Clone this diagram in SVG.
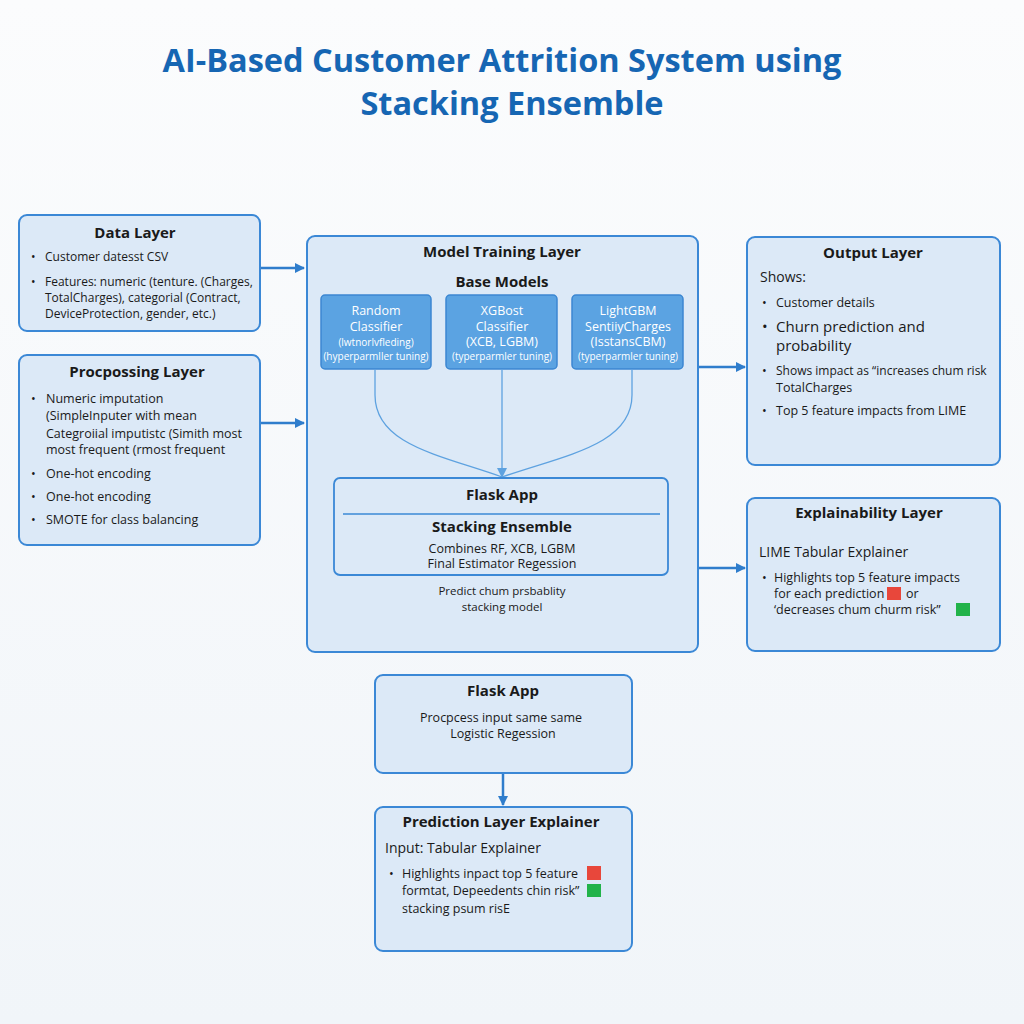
<svg xmlns="http://www.w3.org/2000/svg" width="1024" height="1024" viewBox="0 0 1024 1024">
<defs>
<style>
.box{fill:#dce9f7;stroke:#3b88d6;stroke-width:2}
.mbox{fill:#5ba3e2;stroke:#3c87d2;stroke-width:1.5}
.t{font-family:"Open Sans","Liberation Sans",sans-serif;fill:#1a1a1a}
.h{font-weight:bold;font-size:15px;text-anchor:middle}
.b{font-size:12.5px}
.c{text-anchor:middle}
.w{fill:#ffffff;font-size:12.5px;text-anchor:middle}
.ws{fill:#ffffff;font-size:10px;text-anchor:middle}
.conn{fill:none;stroke:#2f7dcc;stroke-width:2.5}
.thin{fill:none;stroke:#5ea2e0;stroke-width:1.3}
</style>
<marker id="ah" markerWidth="10" markerHeight="10" refX="9" refY="5" orient="auto" markerUnits="userSpaceOnUse" viewBox="0 0 10 10">
<path d="M0,0 L10,5 L0,10 Z" fill="#2f7dcc"/>
</marker>
<marker id="ah2" markerWidth="10" markerHeight="10" refX="9" refY="5" orient="auto" markerUnits="userSpaceOnUse" viewBox="0 0 10 10">
<path d="M0,0 L10,5 L0,10 Z" fill="#5ea2e0"/>
</marker>
<linearGradient id="bg" x1="0" y1="0" x2="0" y2="1">
<stop offset="0" stop-color="#fbfcfd"/>
<stop offset="1" stop-color="#f1f5f9"/>
</linearGradient>
</defs>
<rect width="1024" height="1024" fill="url(#bg)"/>

<g id="title" font-family="'Open Sans','Liberation Sans',sans-serif" font-weight="bold" fill="#1666b3" text-anchor="middle">
<text x="502" y="72" font-size="32.5">AI-Based Customer Attrition System using</text>
<text x="512" y="115" font-size="32.5">Stacking Ensemble</text>
</g>

<g id="connectors">
<line class="conn" x1="260" y1="268" x2="304" y2="268" marker-end="url(#ah)"/>
<line class="conn" x1="260" y1="423" x2="304" y2="423" marker-end="url(#ah)"/>
<line class="conn" x1="698" y1="367" x2="745" y2="367" marker-end="url(#ah)"/>
<line class="conn" x1="698" y1="568" x2="745" y2="568" marker-end="url(#ah)"/>
<line class="conn" x1="503" y1="774" x2="503" y2="805" marker-end="url(#ah)"/>
</g>

<g id="data-layer">
<rect class="box" x="19" y="215" width="241" height="116" rx="8"/>
<text class="t h" x="135" y="238">Data Layer</text>
<g class="t" font-size="12">
<text x="31" y="261">•</text><text x="45" y="261">Customer datesst CSV</text>
<text x="31" y="286">•</text><text x="45" y="286">Features: numeric (tenture. (Charges,</text>
<text x="45" y="302">TotalCharges), categorial (Contract,</text>
<text x="45" y="318">DeviceProtection, gender, etc.)</text>
</g>
</g>

<g id="preprocessing-layer">
<rect class="box" x="19" y="355" width="241" height="190" rx="8"/>
<text class="t h" x="137" y="377">Procpossing Layer</text>
<g class="t b">
<text x="31" y="403">•</text><text x="46" y="403">Numeric imputation</text>
<text x="46" y="420">(SimpleInputer with mean</text>
<text x="46" y="438">Categroiial imputistc (Simith most</text>
<text x="46" y="454">most frequent (rmost frequent</text>
<text x="31" y="478">•</text><text x="46" y="478">One-hot encoding</text>
<text x="31" y="501">•</text><text x="46" y="501">One-hot encoding</text>
<text x="31" y="524">•</text><text x="46" y="524">SMOTE for class balancing</text>
</g>
</g>

<g id="model-training-layer">
<rect class="box" x="307" y="236" width="391" height="416" rx="8" fill="#d9e8f6"/>
<text class="t h" x="502" y="257">Model Training Layer</text>
<text class="t h" x="502" y="287">Base Models</text>
</g>

<g id="base-rf">
<rect class="mbox" x="321" y="295" width="110" height="74" rx="4"/>
<text class="t w" x="376" y="315">Random</text>
<text class="t w" x="376" y="331">Classifier</text>
<text class="t ws" x="376" y="346" font-size="11">(lwtnorlvfleding)</text>
<text class="t ws" x="376" y="360">(hyperparmller tuning)</text>
</g>
<g id="base-xgb">
<rect class="mbox" x="446" y="295" width="111" height="74" rx="4"/>
<text class="t w" x="502" y="315">XGBost</text>
<text class="t w" x="502" y="331">Classifier</text>
<text class="t w" x="502" y="346">(XCB, LGBM)</text>
<text class="t ws" x="502" y="360">(typerparmler tuning)</text>
</g>
<g id="base-lgbm">
<rect class="mbox" x="572" y="295" width="111" height="74" rx="4"/>
<text class="t w" x="628" y="315">LightGBM</text>
<text class="t w" x="628" y="331">SentiiyCharges</text>
<text class="t w" x="628" y="346">(IsstansCBM)</text>
<text class="t ws" x="628" y="360">(typerparmler tuning)</text>
</g>

<g id="model-connectors">
<path class="thin" d="M375,369 L375,395 C375,445 440,455 502,477"/>
<path class="thin" d="M632,369 L632,395 C632,445 565,455 502,477"/>
<line class="thin" x1="502" y1="369" x2="502" y2="477" marker-end="url(#ah2)"/>
</g>

<g id="flask-stacking">
<rect x="334" y="478" width="334" height="97" rx="6" fill="#dce9f7" stroke="#3b88d6" stroke-width="1.8"/>
<text class="t h" x="502" y="500">Flask App</text>
<line x1="343" y1="514" x2="660" y2="514" stroke="#3b88d6" stroke-width="1.5"/>
<text class="t h" x="502" y="532">Stacking Ensemble</text>
<text class="t b c" x="502" y="553">Combines RF, XCB, LGBM</text>
<text class="t b c" x="502" y="568">Final Estimator Regession</text>
<text class="t c" x="502" y="595" font-size="11.5">Predict chum prsbablity</text>
<text class="t c" x="502" y="611" font-size="11.5">stacking model</text>
</g>

<g id="output-layer">
<rect class="box" x="747" y="237" width="253" height="228" rx="8"/>
<text class="t h" x="873" y="258">Output Layer</text>
<text class="t" x="760" y="282" font-size="14" fill="#1d4f86">Shows:</text>
<g class="t b">
<text x="762" y="307">•</text><text x="776" y="307">Customer details</text>
<text x="762" y="332" font-size="15">•</text><text x="776" y="332" font-size="15">Churn prediction and</text>
<text x="776" y="351" font-size="15">probability</text>
<text x="762" y="375">•</text><text x="776" y="375" font-size="12">Shows impact as “increases chum risk</text>
<text x="776" y="392">TotalCharges</text>
<text x="762" y="415">•</text><text x="776" y="415">Top 5 feature impacts from LIME</text>
</g>
</g>

<g id="explainability-layer">
<rect class="box" x="747" y="498" width="253" height="153" rx="8"/>
<text class="t h" x="869" y="518">Explainability Layer</text>
<text class="t" x="759" y="557" font-size="14">LIME Tabular Explainer</text>
<g class="t b">
<text x="762" y="582">•</text><text x="774" y="582">Highlights top 5 feature impacts</text>
<text x="774" y="598">for each prediction</text>
<text x="906" y="598">or</text>
<text x="774" y="614">‘decreases chum churm risk”</text>
</g>
<rect x="887" y="587" width="14" height="13" fill="#e8473b"/>
<rect x="956" y="603" width="14" height="13" fill="#22b34a"/>
</g>

<g id="flask-app">
<rect class="box" x="375" y="675" width="257" height="98" rx="8"/>
<text class="t h" x="503" y="696">Flask App</text>
<text class="t b c" x="501" y="722">Procpcess input same same</text>
<text class="t b c" x="503" y="738">Logistic Regession</text>
</g>

<g id="prediction-layer">
<rect class="box" x="375" y="807" width="257" height="144" rx="8"/>
<text class="t h" x="501" y="827">Prediction Layer Explainer</text>
<text class="t" x="385" y="853" font-size="14">Input: Tabular Explainer</text>
<g class="t b">
<text x="389" y="878">•</text><text x="402" y="878">Highlights inpact top 5 feature</text>
<text x="402" y="895">formtat, Depeedents chin risk”</text>
<text x="402" y="913">stacking psum risE</text>
</g>
<rect x="587" y="866" width="14" height="14" fill="#e8473b"/>
<rect x="587" y="884" width="14" height="13" fill="#22b34a"/>
</g>
</svg>
